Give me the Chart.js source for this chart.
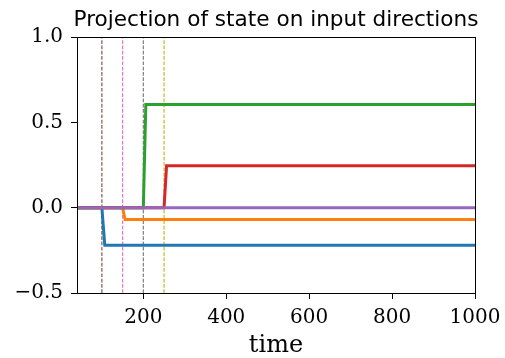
<!DOCTYPE html>
<html lang="en">
<head>
    <meta charset="UTF-8">
    <title>Projection of state on input directions</title>
    <script src="https://cdn.jsdelivr.net/npm/chart.js@4/dist/chart.umd.min.js"></script>
    <style>
        body { margin: 0; padding: 0; background: white; }
        #wrap { width: 505px; height: 358px; }
    </style>
</head>
<body>
    <div id="wrap">
        <canvas id="projCanvas" width="505" height="358"></canvas>
    </div>
    <script>
        // values
        const xTicks = [200, 400, 600, 800, 1000];
        const yTicks = [-0.5, 0.0, 0.5, 1.0];

        const blueT = [40, 100, 107, 1000];
        const blueV = [0, 0, -0.22, -0.22];
        const orangeT = [40, 150, 156, 1000];
        const orangeV = [0, 0, -0.07, -0.07];
        const greenT = [40, 200, 206, 1000];
        const greenV = [0, 0, 0.605, 0.605];
        const redT = [40, 250, 256, 1000];
        const redV = [0, 0, 0.245, 0.245];
        const purpleT = [40, 1000];
        const purpleV = [0, 0];

        // dashed markers for input times
        const markTimes = [100, 150, 200, 250];
        const markColors = ['#8c564b', '#e377c2', '#7f7f7f', '#bcbd22'];

        function pts(ts, vs) {
            return ts.map((t, i) => ({ x: t, y: vs[i] }));
        }

        const series = [
            { data: pts(blueT, blueV), color: '#1f77b4', order: 5 },
            { data: pts(orangeT, orangeV), color: '#ff7f0e', order: 4 },
            { data: pts(greenT, greenV), color: '#2ca02c', order: 3 },
            { data: pts(redT, redV), color: '#d62728', order: 2 },
            { data: pts(purpleT, purpleV), color: '#9467bd', order: 1 }
        ];

        const datasets = series.map(s => ({
            data: s.data,
            borderColor: s.color,
            borderWidth: 3,
            pointRadius: 0,
            tension: 0,
            order: s.order
        }));

        markTimes.forEach((t, i) => {
            datasets.push({
                data: [{ x: t, y: yTicks[0] }, { x: t, y: yTicks[yTicks.length - 1] }],
                borderColor: markColors[i],
                borderWidth: 1.2,
                borderDash: [3.7, 1.6],
                pointRadius: 0,
                order: 10
            });
        });

        // frame box + title over plot area
        const framePlugin = {
            id: 'frame',
            afterDraw(chart) {
                const a = chart.chartArea;
                const c = chart.ctx;
                c.save();
                c.strokeStyle = 'black';
                c.lineWidth = 1;
                c.strokeRect(Math.round(a.left) + 0.5, Math.round(a.top) + 0.5,
                    Math.round(a.right - a.left), Math.round(a.bottom - a.top));
                c.fillStyle = 'black';
                c.font = '21.6px "DejaVu Sans"';
                c.textAlign = 'center';
                c.textBaseline = 'alphabetic';
                c.fillText('Projection of state on input directions', (a.left + a.right) / 2, 26);
                c.restore();
            }
        };

        const tickFont = { family: 'DejaVu Serif', size: 20 };

        new Chart(document.getElementById('projCanvas'), {
            type: 'line',
            data: { datasets: datasets },
            options: {
                responsive: false,
                animation: false,
                devicePixelRatio: 1,
                layout: { padding: { top: 37, right: 30, left: 0, bottom: 0 } },
                plugins: { legend: { display: false }, tooltip: { enabled: false } },
                scales: {
                    x: {
                        type: 'linear',
                        min: 40,
                        max: 1000,
                        afterBuildTicks: axis => { axis.ticks = xTicks.map(v => ({ value: v })); },
                        afterFit: axis => { axis.height = 65; axis.paddingLeft = 0; axis.paddingRight = 0; },
                        ticks: { color: 'black', font: tickFont, padding: 7, maxRotation: 0,
                            callback: v => String(v) },
                        grid: { drawOnChartArea: false, drawTicks: true, tickLength: 6, color: 'black' },
                        border: { display: true, color: 'black' },
                        title: { display: true, text: 'time', color: 'black',
                            font: { family: 'DejaVu Serif', size: 24, lineHeight: 1 },
                            padding: { top: 0, bottom: 0 } }
                    },
                    y: {
                        min: -0.5,
                        max: 1.0,
                        afterBuildTicks: axis => { axis.ticks = yTicks.map(v => ({ value: v })); },
                        afterFit: axis => { axis.width = 77; axis.paddingTop = 0; axis.paddingBottom = 0; },
                        ticks: { color: 'black', font: tickFont, padding: 8,
                            callback: v => (v < 0 ? '\u2212' : '') + Math.abs(v).toFixed(1) },
                        grid: { drawOnChartArea: false, drawTicks: true, tickLength: 6, color: 'black' },
                        border: { display: true, color: 'black' }
                    }
                }
            },
            plugins: [framePlugin]
        });
    </script>
</body>
</html>
